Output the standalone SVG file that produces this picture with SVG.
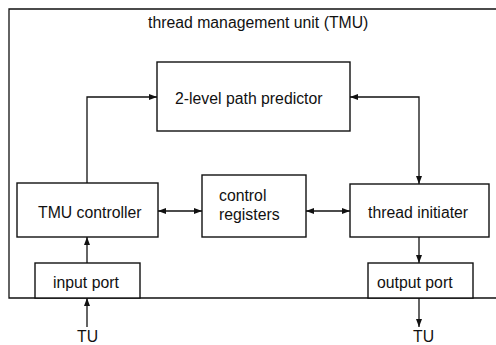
<svg xmlns="http://www.w3.org/2000/svg" width="496" height="345" viewBox="0 0 496 345">
<style>
.box{fill:#fff;stroke:#111;stroke-width:1.4}
.ln{fill:none;stroke:#111;stroke-width:1.3}
text{font-family:"Liberation Sans",Arial,sans-serif;font-size:15.8px;fill:#111}
</style>
<defs>
<marker id="ah" viewBox="0 0 8 6" refX="8" refY="3" markerWidth="8" markerHeight="6" markerUnits="userSpaceOnUse" orient="auto-start-reverse">
<path d="M0,0 L8,3 L0,6 Z" fill="#111"/>
</marker>
</defs>
<rect width="496" height="345" fill="#fff"/>
<g id="tmu">
<path class="ln" d="M497,9 H9 V298 H497"/>
<text x="148" y="28">thread management unit (TMU)</text>
</g>
<g id="connectors">
<path class="ln" d="M87,183 V97 H157" marker-end="url(#ah)"/>
<path class="ln" d="M419,184 V97 H350" marker-start="url(#ah)" marker-end="url(#ah)"/>
<path class="ln" d="M158,211 H202" marker-start="url(#ah)" marker-end="url(#ah)"/>
<path class="ln" d="M306,211 H350" marker-start="url(#ah)" marker-end="url(#ah)"/>
<path class="ln" d="M87,263 V237" marker-end="url(#ah)"/>
<path class="ln" d="M87,327 V298" marker-end="url(#ah)"/>
<path class="ln" d="M419,237 V263" marker-end="url(#ah)"/>
<path class="ln" d="M419,298 V327" marker-end="url(#ah)"/>
</g>
<g id="predictor">
<rect class="box" x="157" y="62" width="193" height="69"/>
<text x="175" y="104">2-level path predictor</text>
</g>
<g id="controller">
<rect class="box" x="17" y="183" width="141" height="54"/>
<text x="38" y="218">TMU controller</text>
</g>
<g id="registers">
<rect class="box" x="202" y="175" width="104" height="62"/>
<text x="219" y="201">control</text>
<text x="219" y="220">registers</text>
</g>
<g id="initiater">
<rect class="box" x="350" y="184" width="139" height="53"/>
<text x="368" y="218">thread initiater</text>
</g>
<g id="inport">
<rect class="box" x="35" y="263" width="105" height="35"/>
<text x="53" y="288">input port</text>
</g>
<g id="outport">
<rect class="box" x="368" y="263" width="105" height="35"/>
<text x="377" y="288">output port</text>
</g>
<g id="tu-in"><text x="77" y="342">TU</text></g>
<g id="tu-out"><text x="413" y="342">TU</text></g>
</svg>
